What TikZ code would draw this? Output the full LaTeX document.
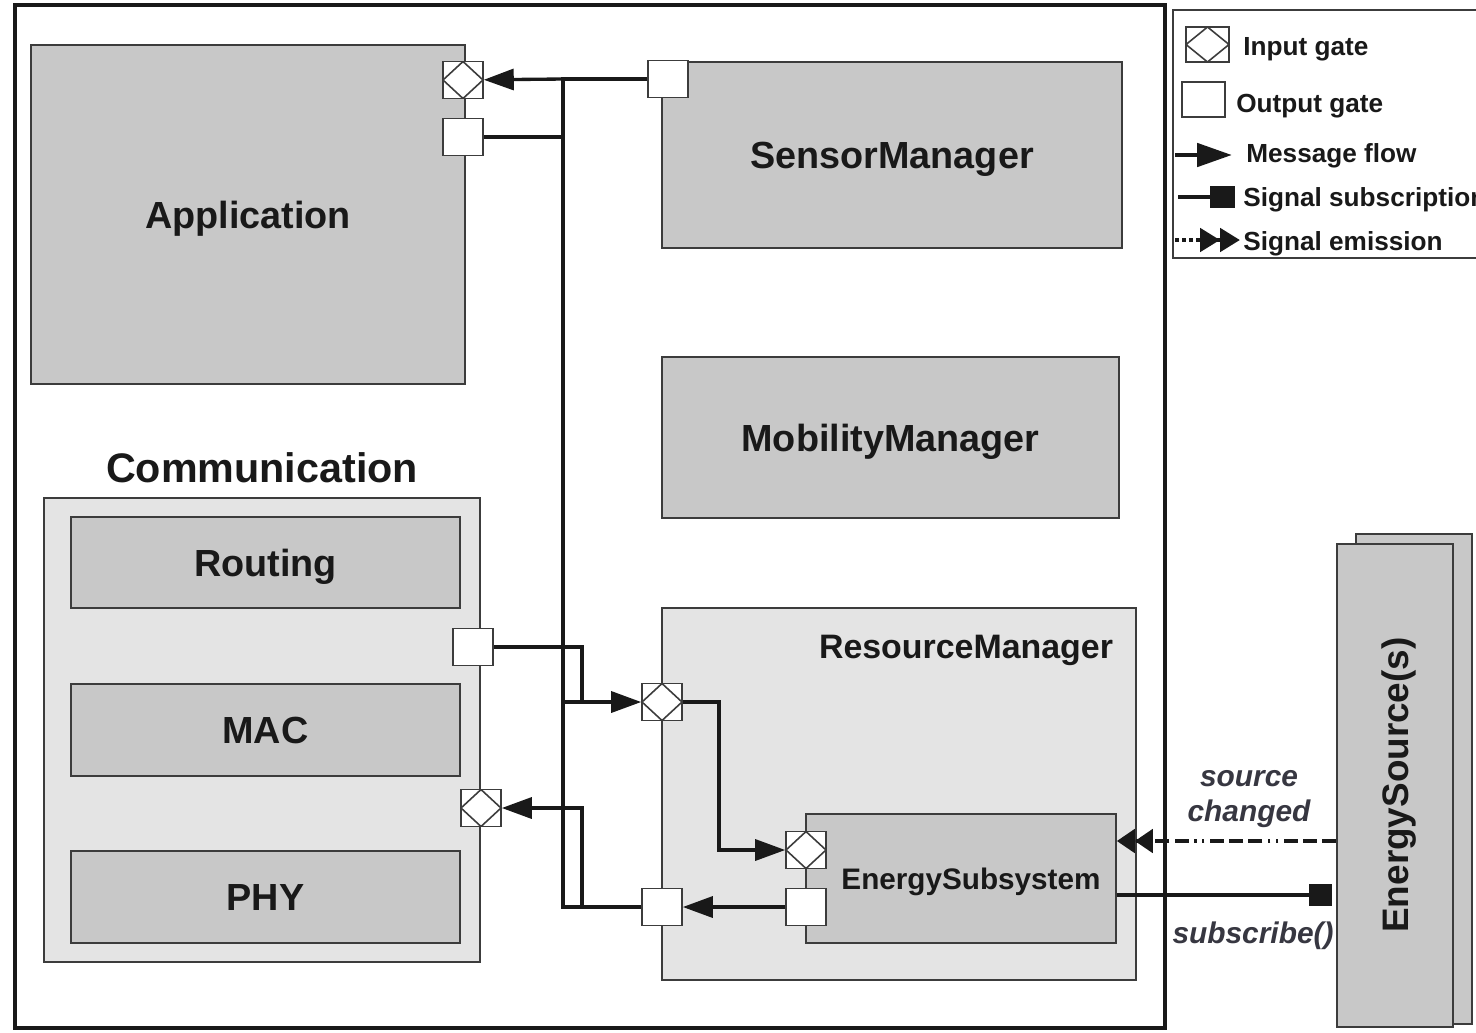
\documentclass[tikz,border=0pt]{standalone}
\usepackage{fontspec}
\setmainfont{Liberation Sans}
\usetikzlibrary{arrows.meta,positioning,calc}
\definecolor{ink}{RGB}{25,25,25}
\definecolor{edge}{RGB}{60,60,60}
\definecolor{modfill}{RGB}{200,200,200}
\definecolor{cmpfill}{RGB}{228,228,228}
\definecolor{note}{RGB}{55,55,65}
\tikzset{
  mod/.style={draw=edge,line width=0.9pt,fill=modfill,text=ink,inner sep=0pt,
    text depth=0pt,font=\fontsize{21.5}{26}\selectfont\bfseries},
  cmp/.style={draw=edge,line width=0.9pt,fill=cmpfill,inner sep=0pt},
  gate/.style={draw=edge,line width=0.9pt,fill=white,minimum width=8mm,
    minimum height=7.4mm,inner sep=0pt},
  ingate/.style={gate,path picture={\draw[edge,line width=0.9pt]
    (path picture bounding box.north) -- (path picture bounding box.east) --
    (path picture bounding box.south) -- (path picture bounding box.west) -- cycle;}},
  wire/.style={line width=1.9pt,ink},
  msg/.style={wire,-{Triangle[length=6mm,width=4.2mm]}},
  subs/.style={line width=2.8pt,ink,-{Square[length=4.6mm,width=4.4mm]}},
  emit/.style={line width=2.8pt,ink,
    dash pattern=on 8pt off 3pt on 8pt off 3pt on 8pt off 3pt on 1.5pt off 3pt on 1.5pt off 3pt,
    -{Triangle[length=3.6mm,width=4.6mm]Triangle[length=3.6mm,width=4.6mm]}},
  sig/.style={text=note,font=\fontsize{17}{20}\selectfont\bfseries\itshape,align=center,
    inner sep=0pt,text depth=0pt},
  lgd/.style={font=\fontsize{14.9}{18}\selectfont\bfseries,text=ink,anchor=west,
    inner sep=0pt,text depth=0pt},
}

\begin{document}
\begin{tikzpicture}[x=0.02cm,y=-0.02cm]
\useasboundingbox (0,0) rectangle (1476,1032);
\clip (0,0) rectangle (1476,1032);
\fill[white] (0,0) rectangle (1476,1032);

% node frame
\draw[ink,line width=2.8pt] (15,5) rectangle (1165,1028);

% modules
\node[mod,minimum width=8.68cm,minimum height=6.78cm] (app) at (248,214.5) {Application};
\node[mod,minimum width=9.2cm,minimum height=3.72cm] (sm) at (892,155) {SensorManager};
\node[mod,minimum width=9.14cm,minimum height=3.22cm] (mm) at (890.5,437.5) {MobilityManager};

% communication stack
\node[cmp,minimum width=8.72cm,minimum height=9.28cm] (com) at (262,730) {};
\node[text=ink,text depth=0pt,font=\fontsize{23.5}{28}\selectfont\bfseries] (comlbl) at (262,468) {Communication};
\node[mod,minimum width=7.78cm,minimum height=1.82cm] (rt) at (265.5,562.5) {Routing};
\node[mod,minimum width=7.78cm,minimum height=1.84cm] (mac) at (265.5,730) {MAC};
\node[mod,minimum width=7.78cm,minimum height=1.84cm] (phy) at (265.5,897) {PHY};

% resource manager
\node[cmp,minimum width=9.48cm,minimum height=7.44cm] (rm) at (899,794) {};
\node[text=ink,text depth=0pt,font=\fontsize{19.3}{23}\selectfont\bfseries] (rmlbl) at (966,647) {ResourceManager};
\node[mod,minimum width=6.2cm,minimum height=2.58cm,
  font=\fontsize{16.9}{20}\selectfont\bfseries] (es) at (961,878.5) {\hspace*{4mm}EnergySubsystem};

% energy sources
\node[mod,minimum width=2.32cm,minimum height=9.8cm] (esrcb) at (1414,779) {};
\node[mod,minimum width=2.32cm,minimum height=9.66cm] (esrc) at (1395,785.5) {};
\node[text=ink,text depth=0pt,rotate=90,font=\fontsize{21}{25}\selectfont\bfseries] (esrclbl) at (1395,785) {EnergySource(s)};

% gates
\node[ingate] (appin) at (463,80) {};
\node[gate] (appout) at (463,137) {};
\node[gate] (smout) at (668,79) {};
\node[gate] (comout) at (473,647) {};
\node[ingate] (comin) at (481,808) {};
\node[ingate] (rmin) at (662,702) {};
\node[gate] (rmout) at (662,907) {};
\node[ingate] (esin) at (806,850) {};
\node[gate] (esout) at (806,907) {};

% message wiring
\coordinate (busT) at (563,79);
\coordinate (busB) at (563,907);
\coordinate (jogA) at (582,702);
\coordinate (jogB) at (582,907);
\coordinate (jogC) at (719,850);
\draw[wire] (smout) -- (busT) -- (busB) -- (rmout);
\draw[msg] (busT) -- (appin);
\draw[wire] (appout) -- (appout -| busT);
\draw[wire] (comout) -| (jogA);
\draw[msg] (rmin -| busT) -- (rmin);
\draw[msg] (jogB) |- (comin);
\draw[msg] (rmin) -| (jogC) -- (esin);
\draw[msg] (esout) -- (rmout);

% signals
\draw[emit] (esrc.west |- 0,841) -- (es.east |- 0,841);
\draw[subs] (es.east |- 0,895) -- ([xshift=-0.08cm]esrc.west |- 0,895);
\node[sig] (chg) at (1249,796) {source\\[0pt]changed};
\node[sig] (sub) at (1253,933) {subscribe()};

% legend
\draw[edge,line width=0.9pt] (1173,10) rectangle (1500,258);
\node[ingate,minimum width=8.6mm,minimum height=7mm] (lin) at (1207.5,44.5) {};
\node[lgd] (linl) at (1243,46) {Input gate};
\node[gate,minimum width=8.6mm,minimum height=7mm] (lout) at (1203.5,99.5) {};
\node[lgd] (loutl) at (1236,103) {Output gate};
\coordinate (lmsgA) at (1175,155);
\coordinate (lmsgB) at (1232,155);
\draw[line width=2.8pt,ink,-{Triangle[length=7mm,width=4.6mm]}] (lmsgA) -- (lmsgB);
\node[lgd] (lmsgl) at (1246,153) {Message flow};
\coordinate (lsubA) at (1178,197);
\coordinate (lsubB) at (1235,197);
\draw[subs,-{Square[length=5mm,width=4.4mm]}] (lsubA) -- (lsubB);
\node[lgd] (lsubl) at (1243,197) {Signal subscription};
\coordinate (lemA) at (1175,240);
\coordinate (lemB) at (1240,240);
\draw[line width=2.8pt,ink,dash pattern=on 2pt off 2pt,
  -{Triangle[length=4mm,width=4.6mm]Triangle[length=4mm,width=4.6mm]}] (lemA) -- (lemB);
\node[lgd] (leml) at (1243,241) {Signal emission};
\end{tikzpicture}
\end{document}
